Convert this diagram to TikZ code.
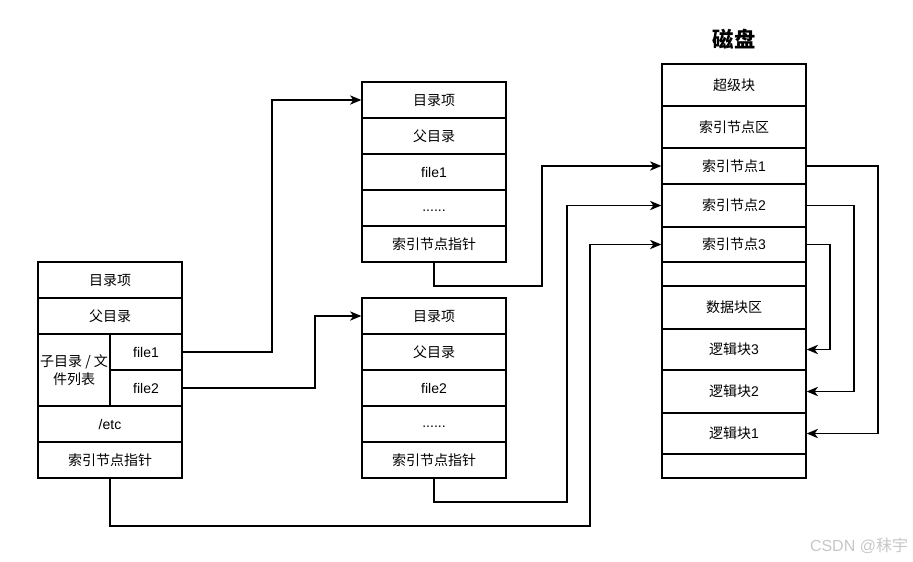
\documentclass[tikz,border=0pt]{standalone}
\usepackage{fontspec}
\setmainfont{Liberation Sans}
\newfontfamily\cjk{Noto Sans CJK SC}
\usetikzlibrary{arrows.meta}
\begin{document}
\begin{tikzpicture}[x=0.75pt,y=-0.75pt,
  cell/.style={draw, line width=1pt, inner sep=0pt, minimum width=108pt, font=\fontsize{10.5}{13}\selectfont, align=center},
  arr/.style={-{Stealth[length=8.5pt,width=7pt,inset=2.5pt]}, line width=1pt}]
\useasboundingbox (0,0) rectangle (913,561);

% left directory entry
\node[cell, minimum height=27pt] (la) at (110,280) {\cjk 目录项};
\node[cell, minimum height=27pt] (lb) at (110,316) {\cjk 父目录};
\node[cell, minimum width=54pt, minimum height=54pt] (lc) at (74,370) {\cjk 子目录 / 文\\\cjk 件列表};
\node[cell, minimum width=54pt, minimum height=27pt] (lf1) at (146,352) {file1};
\node[cell, minimum width=54pt, minimum height=27pt] (lf2) at (146,388) {file2};
\node[cell, minimum height=27pt] (ld) at (110,424) {/etc};
\node[cell, minimum height=27pt] (le) at (110,460) {\cjk 索引节点指针};

% middle entry 1
\node[cell, minimum height=27pt] (m1a) at (434,100) {\cjk 目录项};
\node[cell, minimum height=27pt] (m1b) at (434,136) {\cjk 父目录};
\node[cell, minimum height=27pt] (m1c) at (434,172) {file1};
\node[cell, minimum height=27pt] (m1d) at (434,208) {\strut......};
\node[cell, minimum height=27pt] (m1e) at (434,244) {\cjk 索引节点指针};

% middle entry 2
\node[cell, minimum height=27pt] (m2a) at (434,316) {\cjk 目录项};
\node[cell, minimum height=27pt] (m2b) at (434,352) {\cjk 父目录};
\node[cell, minimum height=27pt] (m2c) at (434,388) {file2};
\node[cell, minimum height=27pt] (m2d) at (434,424) {\strut......};
\node[cell, minimum height=27pt] (m2e) at (434,460) {\cjk 索引节点指针};

% disk
\node[font=\cjk\bfseries\fontsize{16}{19}\selectfont] (title) at (734,39) {磁盘};
\node[cell, minimum height=31.5pt] (d1) at (734,85) {\cjk 超级块};
\node[cell, minimum height=31.5pt] (d2) at (734,127) {\cjk 索引节点区};
\node[cell, minimum height=27pt] (d3) at (734,166) {\cjk 索引节点\normalfont 1};
\node[cell, minimum height=32.25pt] (d4) at (734,205.5) {\cjk 索引节点\normalfont 2};
\node[cell, minimum height=26.25pt] (d5) at (734,244.5) {\cjk 索引节点\normalfont 3};
\node[cell, minimum height=18pt] (d6) at (734,274) {};
\node[cell, minimum height=32.25pt] (d7) at (734,307.5) {\cjk 数据块区};
\node[cell, minimum height=30.75pt] (d8) at (734,349.5) {\cjk 逻辑块\normalfont 3};
\node[cell, minimum height=32.25pt] (d9) at (734,391.5) {\cjk 逻辑块\normalfont 2};
\node[cell, minimum height=30.75pt] (d10) at (734,433.5) {\cjk 逻辑块\normalfont 1};
\node[cell, minimum height=18pt] (d11) at (734,466) {};

% routing coordinates
\coordinate (x1) at (272,0);
\coordinate (x2) at (315,0);
\coordinate (p1) at (542,286);
\coordinate (p2) at (567,502);
\coordinate (p3) at (590,526);
\coordinate (q1) at (878,0);
\coordinate (q2) at (854,0);
\coordinate (q3) at (830,0);

\draw[arr] (lf1.east) -- (lf1.east -| x1) |- (m1a.west);
\draw[arr] (lf2.east) -- (lf2.east -| x2) |- (m2a.west);
\draw[arr] (m1e.south) |- (p1) |- (d3.west);
\draw[arr] (m2e.south) |- (p2) |- (d4.west);
\draw[arr] (le.south) |- (p3) |- (d5.west);
\draw[arr] (d3.east) -- (d3.east -| q1) |- (d10.east);
\draw[arr] (d4.east) -- (d4.east -| q2) |- (d9.east);
\draw[arr] (d5.east) -- (d5.east -| q3) |- (d8.east);

\node[text=black!22, font=\fontsize{12}{14}\selectfont] (wm) at (859,546) {CSDN @{\cjk 秣宇}};
\end{tikzpicture}
\end{document}
